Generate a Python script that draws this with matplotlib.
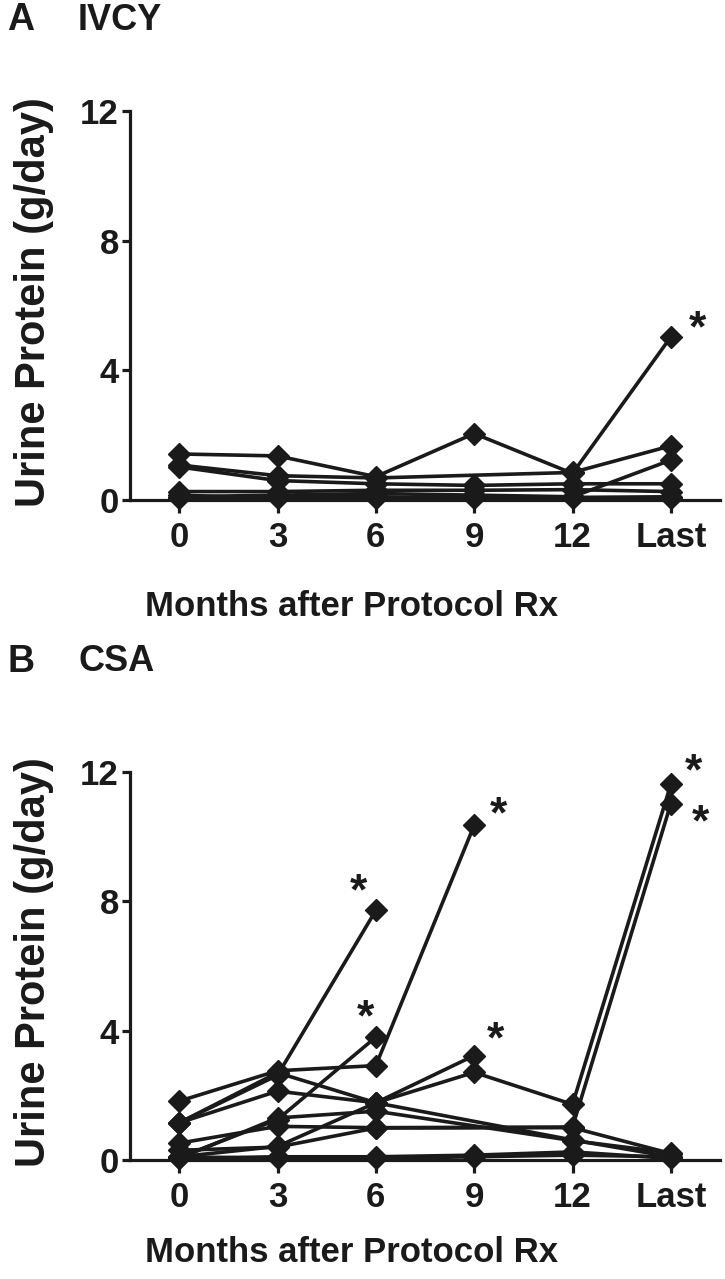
import numpy as np
import matplotlib
matplotlib.use("Agg")
import matplotlib.pyplot as plt

plt.rcParams['font.family'] = ['Liberation Sans', 'DejaVu Sans']
plt.rcParams['font.weight'] = 'bold'

nan = np.nan
months = ["0", "3", "6", "9", "12", "Last"]

# Panel A: IVCY patients (g/day)
ivcy_1 = [1.42, 1.36, 0.72, 2.05, 0.82, 5.03]
ivcy_2 = [1.08, 0.75, 0.68, nan, 0.85, 1.67]
ivcy_3 = [1.02, 0.60, 0.50, 0.45, 0.50, 0.50]
ivcy_4 = [0.26, 0.26, 0.30, 0.30, 0.32, 0.26]
ivcy_5 = [0.10, 0.15, 0.20, 0.15, 0.10, 1.23]
ivcy_6 = [0.05, 0.10, 0.10, 0.05, 0.08, 0.10]
ivcy_7 = [0.15, 0.05, 0.05, 0.10, 0.05, 0.05]
ivcy = [ivcy_1, ivcy_2, ivcy_3, ivcy_4, ivcy_5, ivcy_6, ivcy_7]

# Panel B: CSA patients (g/day)
csa_1 = [1.15, 2.62, 7.72, nan, nan, nan]
csa_2 = [1.82, 2.76, 2.92, 10.35, nan, nan]
csa_3 = [0.08, 1.25, 3.80, nan, nan, nan]
csa_4 = [1.15, 2.13, 1.77, 3.23, nan, nan]
csa_5 = [0.10, 0.42, 1.77, 2.71, 1.72, 11.62]
csa_6 = [0.52, 1.04, 1.00, nan, 1.02, 11.02]
csa_7 = [1.15, 2.70, 1.77, nan, 0.62, 0.10]
csa_8 = [0.05, 1.30, 1.51, nan, 0.60, 0.22]
csa_9 = [0.05, 0.10, 0.10, 0.15, 0.25, 0.05]
csa_10 = [0.10, 0.05, 0.05, 0.10, 0.15, 0.10]
csa_11 = [0.30, 0.40, 0.99, nan, 1.00, 0.20]
csa = [csa_1, csa_2, csa_3, csa_4, csa_5, csa_6, csa_7, csa_8, csa_9, csa_10, csa_11]

# asterisks: (series index, point index, dx px, dy px)
stars_a = [(0, 5, 27, -18)]
stars_b = [(0, 2, -17, -28), (2, 2, -10, -29), (1, 3, 24, -20), (3, 3, 21, -25),
           (4, 5, 23, -22), (5, 5, 30, 10)]

W, H = 725, 1279
fig = plt.figure(figsize=(W / 100, H / 100), dpi=100)
C = '#1a1a1a'


def panel(ax, data, stars, letter, title, title_y, xlabelpad):
    x = np.arange(len(months))
    for s in data:
        s = np.asarray(s, float)
        m = ~np.isnan(s)
        ax.plot(x[m], s[m], color=C, lw=2.6, marker='D', ms=11, mfc=C, mec=C,
                clip_on=False, solid_joinstyle='miter')
    for si, pi, dx, dy in stars:
        ax.annotate('*', (pi, data[si][pi]), xytext=(dx, -dy - 22),
                    textcoords='offset pixels', ha='center', va='baseline',
                    fontsize=32, fontweight='bold', color=C, annotation_clip=False)
    ax.set_xlim(-0.5, 5.5)
    ax.set_ylim(0, 12)
    ax.set_yticks([0, 4, 8, 12])
    ax.set_xticks(x)
    ax.set_xticklabels(months)
    for sp in ['top', 'right']:
        ax.spines[sp].set_visible(False)
    for sp in ['left', 'bottom']:
        ax.spines[sp].set_linewidth(2.3)
        ax.spines[sp].set_color(C)
    ax.tick_params(axis='x', length=9, width=2.3, color=C, labelsize=25, pad=6, labelcolor=C)
    ax.tick_params(axis='y', length=6, width=2.3, color=C, labelsize=25, pad=2, labelcolor=C)
    ax.set_xlabel('Months after Protocol Rx', fontsize=25, fontweight='bold',
                  labelpad=xlabelpad, color=C)
    ax.xaxis.label.set_x(0.375)
    ax.set_ylabel('Urine Protein (g/day)', fontsize=30, fontweight='bold', labelpad=19, color=C)
    ax.yaxis.label.set_y(0.51)
    fig.text(7 / W, 1 - title_y / H, letter, fontsize=27, fontweight='bold', va='center', ha='left', color=C)
    fig.text(78 / W, 1 - title_y / H, title, fontsize=26, fontweight='bold', va='center', ha='left', color=C)


axA = fig.add_axes([130 / W, 1 - 500 / H, (720 - 130) / W, (500 - 111) / H])
panel(axA, ivcy, stars_a, 'A', 'IVCY', 20, 26)
axB = fig.add_axes([130 / W, 1 - 1160 / H, (720 - 130) / W, (1160 - 772) / H])
panel(axB, csa, stars_b, 'B', 'CSA', 662, 16)

fig.savefig('out.png', dpi=100)
